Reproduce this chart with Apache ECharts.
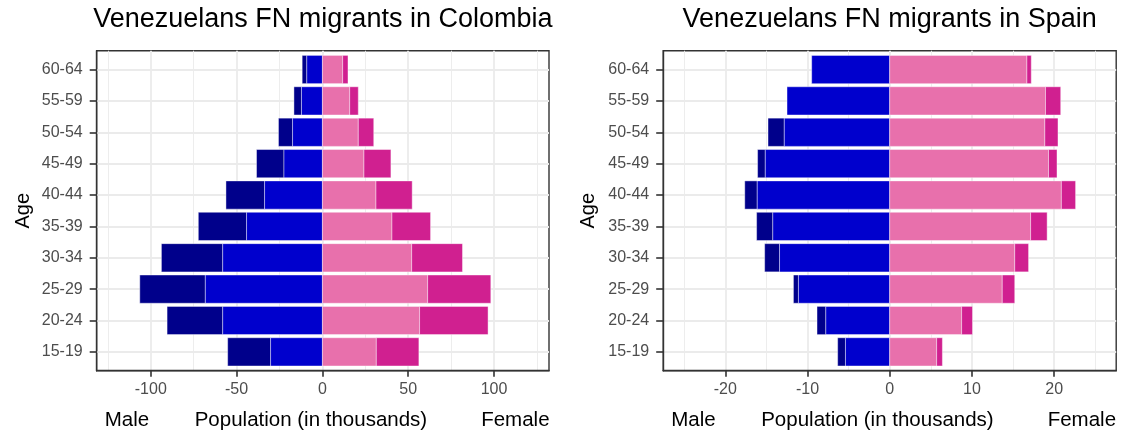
<!DOCTYPE html>
<html>
<head>
<meta charset="utf-8">
<script src="https://cdn.jsdelivr.net/npm/echarts@6/dist/echarts.min.js"></script>
<style>
  html, body { margin: 0; padding: 0; background: #ffffff; }
  #chart { width: 1130px; height: 433px; }
</style>
</head>
<body>
<div id="chart"></div>
<script>
// Age groups, bottom to top
const ageGroups = ['15-19', '20-24', '25-29', '30-34', '35-39', '40-44', '45-49', '50-54', '55-59', '60-64'];

// Colombia, population in thousands (inner = first segment from the axis, outer = second)
const colMaleInner   = [30.2, 58.1, 68.2, 58.1, 44.2, 33.7, 22.4, 17.4, 12.2, 9.1];
const colMaleOuter   = [25.0, 32.4, 38.2, 35.7, 28.1, 22.5, 16.0, 8.2, 4.4, 2.7];
const colFemaleInner = [31.4, 56.6, 61.3, 52.0, 40.5, 31.2, 24.2, 20.9, 15.9, 11.8];
const colFemaleOuter = [24.8, 39.9, 36.8, 29.6, 22.5, 21.1, 15.7, 9.0, 5.0, 3.1];

// Spain, population in thousands
const spaMaleInner   = [5.38, 7.77, 11.10, 13.40, 14.22, 16.11, 15.13, 12.82, 12.49, 9.49];
const spaMaleOuter   = [0.95, 1.07, 0.61, 1.81, 1.97, 1.52, 0.94, 1.98, 0, 0];
const spaFemaleInner = [5.71, 8.75, 13.69, 15.21, 17.14, 20.88, 19.32, 18.87, 18.95, 16.69];
const spaFemaleOuter = [0.70, 1.32, 1.52, 1.68, 2.01, 1.73, 1.03, 1.60, 1.85, 0.53];

// Tick labels of the population axes
const colTicks = [-100, -50, 0, 50, 100];
const spaTicks = [-20, -10, 0, 10, 20];

const panelTitles = ['Venezuelans FN migrants in Colombia', 'Venezuelans FN migrants in Spain'];
const axisTitle = 'Population (in thousands)';

const FONT = "'Liberation Sans', Arial, Helvetica, sans-serif";
const COLORS = {
  maleOuter: '#00008B',
  maleInner: '#0000CD',
  femaleInner: '#E870AC',
  femaleOuter: '#D02090'
};

// Panel frames in pixels
const panels = [
  { left: 96.7, top: 50.7, width: 452.3, height: 320, xMin: -131.5, xMax: 132, ticks: colTicks, ageGap: 73.5 },
  { left: 663.2, top: 50.7, width: 453, height: 320, xMin: -27.55, xMax: 27.55, ticks: spaTicks, ageGap: 75 }
];

// Turn segment sizes into [start, end, row] spans, stacked outward from zero
function spans(inner, outer, sign, which) {
  const out = [];
  inner.forEach((v, i) => {
    const a = which === 'inner' ? 0 : inner[i];
    const b = which === 'inner' ? inner[i] : inner[i] + outer[i];
    if (b - a > 0) out.push([sign * a, sign * b, i]);
  });
  return out;
}

function renderBar(params, api) {
  const row = api.value(2);
  const p0 = api.coord([api.value(0), row + 0.45]);
  const p1 = api.coord([api.value(1), row - 0.45]);
  return {
    type: 'rect',
    shape: {
      x: Math.min(p0[0], p1[0]),
      y: p0[1],
      width: Math.abs(p1[0] - p0[0]),
      height: p1[1] - p0[1]
    },
    style: {
      fill: api.visual('color'),
      stroke: 'rgba(255,255,255,0.6)',
      lineWidth: 0.7
    }
  };
}

const rowIndex = ageGroups.map((_, i) => i);
const frameColor = '#333333';
const gridLine = '#EBEBEB';

const grids = panels.map(p => ({
  left: p.left, top: p.top, width: p.width, height: p.height,
  show: true, borderColor: frameColor, borderWidth: 1.4, backgroundColor: '#ffffff'
}));

const xAxes = panels.map((p, g) => ({
  type: 'value', gridIndex: g, min: p.xMin, max: p.xMax,
  axisLine: { show: true, onZero: false, lineStyle: { color: frameColor, width: 1.4 } },
  axisTick: { show: true, customValues: p.ticks, length: 6, lineStyle: { color: frameColor, width: 1.6 } },
  axisLabel: { customValues: p.ticks, color: '#4D4D4D', fontSize: 16, fontFamily: FONT, margin: 11 },
  splitLine: { show: true, lineStyle: { color: gridLine, width: 1.8 } },
  minorTick: { show: false, splitNumber: 2 },
  minorSplitLine: { show: true, lineStyle: { color: gridLine, width: 0.9 } }
}));

const yAxes = panels.map((p, g) => ({
  type: 'value', gridIndex: g, min: -0.6, max: 9.6,
  axisLine: { show: true, onZero: false, lineStyle: { color: frameColor, width: 1.4 } },
  axisTick: { show: true, customValues: rowIndex, length: 7, lineStyle: { color: frameColor, width: 1.6 } },
  axisLabel: {
    customValues: rowIndex, color: '#4D4D4D', fontSize: 16, fontFamily: FONT, margin: 14,
    formatter: v => ageGroups[Math.round(v)]
  },
  splitLine: { show: true, lineStyle: { color: gridLine, width: 1.8 } },
  minorSplitLine: { show: false }
}));

const panelData = [
  [colMaleInner, colMaleOuter, colFemaleInner, colFemaleOuter],
  [spaMaleInner, spaMaleOuter, spaFemaleInner, spaFemaleOuter]
];

const series = [];
panelData.forEach((d, g) => {
  const [mi, mo, fi, fo] = d;
  const parts = [
    { name: 'Male outer', data: spans(mi, mo, -1, 'outer'), color: COLORS.maleOuter },
    { name: 'Male inner', data: spans(mi, mo, -1, 'inner'), color: COLORS.maleInner },
    { name: 'Female inner', data: spans(fi, fo, 1, 'inner'), color: COLORS.femaleInner },
    { name: 'Female outer', data: spans(fi, fo, 1, 'outer'), color: COLORS.femaleOuter }
  ];
  parts.forEach(s => series.push({
    type: 'custom', name: s.name, xAxisIndex: g, yAxisIndex: g,
    renderItem: renderBar, encode: { x: [0, 1], y: 2 },
    itemStyle: { color: s.color }, data: s.data, silent: true
  }));
});

// Titles and axis names
const graphic = [];
panels.forEach((p, g) => {
  const cx = p.left + p.width / 2;
  graphic.push({
    type: 'text', x: cx, y: 20,
    style: { text: panelTitles[g], font: '27px ' + FONT, fill: '#000000', align: 'center', verticalAlign: 'middle' }
  });
  graphic.push({
    type: 'text', x: p.left - p.ageGap, y: p.top + p.height / 2, rotation: Math.PI / 2,
    style: { text: 'Age', font: '20px ' + FONT, fill: '#000000', align: 'center', verticalAlign: 'middle' }
  });
  graphic.push({
    type: 'text', x: p.left + 8, y: 420,
    style: { text: 'Male', font: '20.5px ' + FONT, fill: '#000000', align: 'left', verticalAlign: 'middle' }
  });
  graphic.push({
    type: 'text', x: p.left + 98, y: 420,
    style: { text: axisTitle, font: '20.5px ' + FONT, fill: '#000000', align: 'left', verticalAlign: 'middle' }
  });
  graphic.push({
    type: 'text', x: p.left + 384.5, y: 420,
    style: { text: 'Female', font: '20.5px ' + FONT, fill: '#000000', align: 'left', verticalAlign: 'middle' }
  });
});

const chart = echarts.init(document.getElementById('chart'), null, { renderer: 'canvas' });
chart.setOption({
  animation: false,
  backgroundColor: '#ffffff',
  textStyle: { fontFamily: FONT },
  grid: grids,
  xAxis: xAxes,
  yAxis: yAxes,
  series: series,
  graphic: graphic
});
</script>
</body>
</html>
